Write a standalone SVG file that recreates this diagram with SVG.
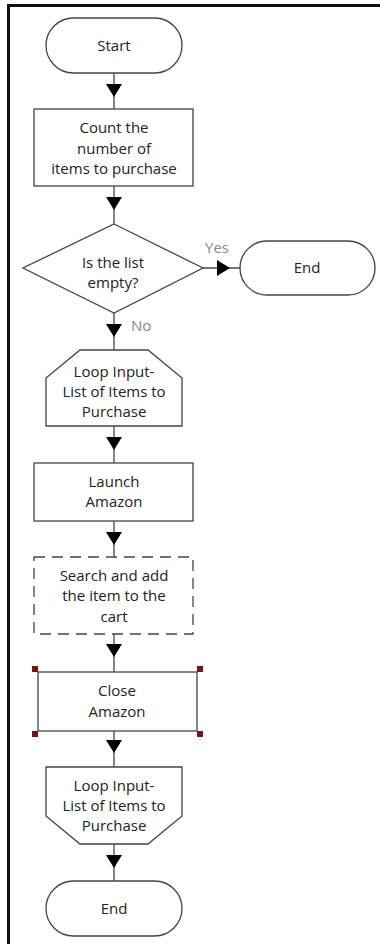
<svg xmlns="http://www.w3.org/2000/svg" width="380" height="947" viewBox="0 0 380 947">
<defs>
<style>
.shape{fill:#fff;stroke:#444;stroke-width:1.3}
.dash{fill:#fff;stroke:#444;stroke-width:1.3;stroke-dasharray:11 7}
.t{font-family:"Open Sans","Liberation Sans",Arial,sans-serif;font-size:15px;fill:#222;text-anchor:middle}
.lbl{font-family:"Open Sans","Liberation Sans",Arial,sans-serif;font-size:15px;fill:#8a8a8a}
.conn{fill:none;stroke:#444;stroke-width:1.3;marker-mid:url(#arr)}
.h{fill:#7a1414}
</style>
<marker id="arr" viewBox="0 0 13 16" refX="13" refY="8" markerWidth="13" markerHeight="16" markerUnits="userSpaceOnUse" orient="auto">
<path d="M0,0 L13,8 L0,16 z" fill="#000"/>
</marker>
</defs>
<rect width="380" height="947" fill="#fff"/>
<path d="M8.5,944 L8.5,5.5 L380,5.5" fill="none" stroke="#111" stroke-width="3"/>
<g id="connectors">
<path class="conn" d="M114,73 L114,97 L114,109"/>
<path class="conn" d="M114,186 L114,210 L114,224"/>
<path class="conn" d="M203,268 L230,268 L240,268"/>
<path class="conn" d="M114,313 L114,337 L114,350"/>
<path class="conn" d="M114,426 L114,450 L114,463"/>
<path class="conn" d="M114,521 L114,545 L114,557"/>
<path class="conn" d="M114,634 L114,657 L114,672"/>
<path class="conn" d="M114,731 L114,753 L114,767"/>
<path class="conn" d="M114,844 L114,868 L114,881"/>
<text class="lbl" x="205" y="253">Yes</text>
<text class="lbl" x="131" y="331">No</text>
</g>
<g id="start">
<rect class="shape" x="46" y="18" width="136" height="55" rx="27.5"/>
<text class="t" x="114" y="51">Start</text>
</g>
<g id="count">
<rect class="shape" x="34" y="109" width="159" height="77"/>
<text class="t" x="114" y="133">Count the</text>
<text class="t" x="114" y="154">number of</text>
<text class="t" x="114" y="174">items to purchase</text>
</g>
<g id="decision">
<polygon class="shape" points="114,224 203,268 114,313 23,268"/>
<text class="t" x="113" y="268">Is the list</text>
<text class="t" x="113" y="288">empty?</text>
</g>
<g id="end-yes">
<rect class="shape" x="240" y="241" width="135" height="54" rx="27"/>
<text class="t" x="307" y="273">End</text>
</g>
<g id="loop-start">
<polygon class="shape" points="80,350 148,350 182,378 182,426 46,426 46,378"/>
<text class="t" x="114" y="377">Loop Input-</text>
<text class="t" x="114" y="397">List of Items to</text>
<text class="t" x="114" y="417">Purchase</text>
</g>
<g id="launch">
<rect class="shape" x="34" y="463" width="159" height="58"/>
<text class="t" x="114" y="487">Launch</text>
<text class="t" x="114" y="507">Amazon</text>
</g>
<g id="search">
<rect class="dash" x="34" y="557" width="159" height="77"/>
<text class="t" x="114" y="581">Search and add</text>
<text class="t" x="114" y="601">the item to the</text>
<text class="t" x="114" y="622">cart</text>
</g>
<g id="close">
<rect class="shape" x="38" y="672" width="159" height="59"/>
<text class="t" x="117" y="696">Close</text>
<text class="t" x="117" y="717">Amazon</text>
<rect class="h" x="32" y="666" width="6" height="6"/>
<rect class="h" x="197" y="666" width="6" height="6"/>
<rect class="h" x="32" y="731" width="6" height="6"/>
<rect class="h" x="197" y="731" width="6" height="6"/>
</g>
<g id="loop-end">
<polygon class="shape" points="46,767 182,767 182,816 148,844 80,844 46,816"/>
<text class="t" x="114" y="791">Loop Input-</text>
<text class="t" x="114" y="811">List of Items to</text>
<text class="t" x="114" y="831">Purchase</text>
</g>
<g id="end">
<rect class="shape" x="46" y="881" width="136" height="55" rx="27.5"/>
<text class="t" x="114" y="914">End</text>
</g>
</svg>
